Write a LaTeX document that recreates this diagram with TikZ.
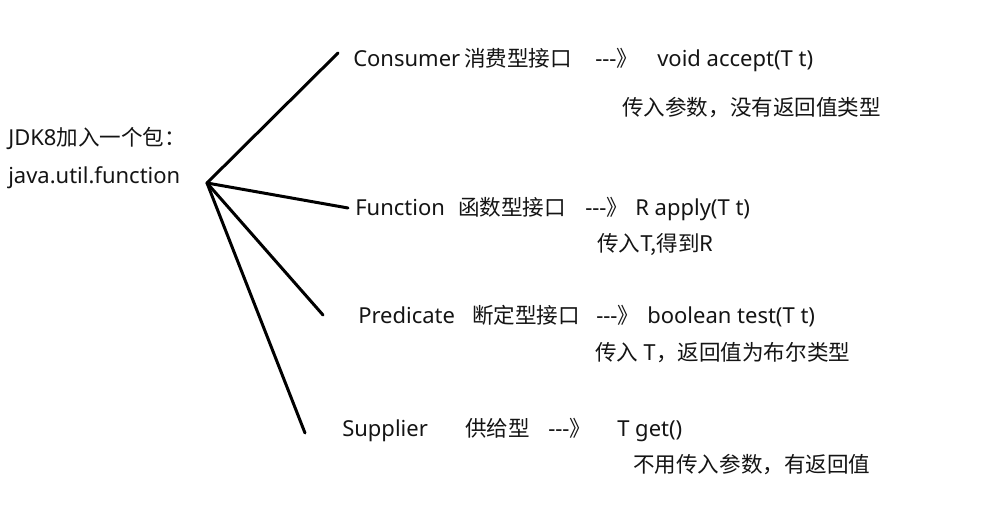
\documentclass[tikz,border=0pt]{standalone}
\usepackage{fontspec}
\setmainfont{Noto Sans}
\newfontfamily\cjk{Noto Sans CJK SC}[Scale=0.98]
\definecolor{inkgray}{RGB}{20,20,20}

\begin{document}
\begin{tikzpicture}[x=0.75pt,y=-0.75pt,
    txt/.style={anchor=base west,inner sep=0pt,text=inkgray,font=\fontsize{16.5}{19}\selectfont},
    branch/.style={line width=2.25pt,line cap=round}]
  \useasboundingbox (0,0) rectangle (1004,509);
  \node[txt] (jdk) at (8,146) {JDK8{\cjk 加入一个包：}};
  \node[txt] (pkg) at (8,184) {java.util.function};
  \coordinate (root) at (207,183);
  \foreach \name/\y/\xen/\en/\xcn/\cn/\xarr/\xsig/\sig/\xnote/\ynote/\note/\ex/\ey in {
      consumer/67/353/Consumer/464/消费型接口/595/657/{void accept(T t)}/622/116/{传入参数，没有返回值类型}/338/53,
      function/216/355/Function/458/函数型接口/585/635/{R apply(T t)}/597/252/{传入T,得到R}/348/208,
      predicate/324/358/Predicate/472/断定型接口/596/647/{boolean test(T t)}/595/361/{传入 T，返回值为布尔类型}/323/315,
      supplier/437/342/Supplier/465/供给型/548/617/{T get()}/633/473/{不用传入参数，有返回值}/305/433} {
    \node[txt] (\name-en) at (\xen,\y) {\en};
    \node[txt] (\name-cn) at (\xcn,\y) {\cjk\cn};
    \node[txt] (\name-arr) at (\xarr,\y) {-{}-{}-{\cjk 》}};
    \node[txt] (\name-sig) at (\xsig,\y) {\sig};
    \node[txt] (\name-note) at (\xnote,\ynote) {\cjk\note};
    \coordinate (\name-end) at (\ex,\ey);
    \draw[branch] (root) -- (\name-end);
  }
\end{tikzpicture}
\end{document}
